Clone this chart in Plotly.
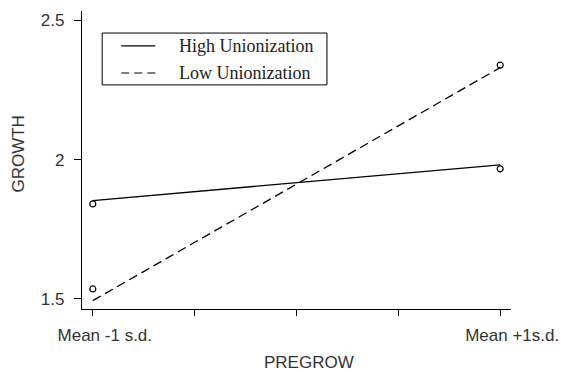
import plotly.graph_objects as go

pregrow = [-1, 1]
x_tick_vals = [-1, -0.5, 0, 0.5, 1]
x_tick_text = ["Mean -1 s.d.", "", "", "", "Mean +1s.d."]
y_tick_vals = [1.5, 2, 2.5]
y_tick_text = ["1.5", "2", "2.5"]

series_names = ["High Unionization", "Low Unionization"]
high_fit = [1.853, 1.981]
low_fit = [1.494, 2.330]
high_obs = [1.841, 1.967]
low_obs = [1.536, 2.339]

DASH = "9px,5px"
fig = go.Figure()
fig.add_trace(go.Scatter(x=pregrow, y=high_fit, mode="lines", name=series_names[0], showlegend=False,
                         line=dict(color="black", width=1.3, dash="solid")))
fig.add_trace(go.Scatter(x=pregrow, y=low_fit, mode="lines", name=series_names[1], showlegend=False,
                         line=dict(color="black", width=1.3, dash=DASH)))
for obs in (high_obs, low_obs):
    fig.add_trace(go.Scatter(x=pregrow, y=obs, mode="markers", showlegend=False,
                             marker=dict(symbol="circle-open", color="black", size=6,
                                         line=dict(width=1.2))))

sans = "Liberation Sans, Arial, Helvetica, sans-serif"
axis_font = dict(family=sans, size=17, color="#333")

# manual legend (box, line samples, labels)
shapes = [dict(type="rect", xref="paper", yref="paper", x0=0.047, x1=0.571, y0=0.752, y1=0.926,
               line=dict(color="black", width=1), fillcolor="white", layer="above")]
annotations = []
for i, (nm, ly) in enumerate(zip(series_names, [0.883, 0.792])):
    shapes.append(dict(type="line", xref="paper", yref="paper", x0=0.0915, x1=0.1707, y0=ly, y1=ly,
                       line=dict(color="black", width=1.2, dash="solid" if i == 0 else "8px,5px"),
                       layer="above"))
    annotations.append(dict(text=nm, xref="paper", yref="paper", x=0.222, y=ly, xanchor="left",
                            yanchor="middle", showarrow=False,
                            font=dict(family="Liberation Serif, Times New Roman, serif", size=18,
                                      color="#222")))
# axis titles
annotations.append(dict(text="PREGROW", xref="paper", yref="paper", x=0.528, y=-0.178,
                        xanchor="center", yanchor="middle", showarrow=False, font=axis_font))
annotations.append(dict(text="GROWTH", xref="paper", yref="paper", x=-0.148, y=0.52,
                        xanchor="center", yanchor="middle", showarrow=False, textangle=-90,
                        font=axis_font))

fig.update_layout(
    width=561, height=372,
    margin=dict(l=82, r=50, t=11, b=63, autoexpand=False),
    plot_bgcolor="white", paper_bgcolor="white",
    font=axis_font,
    showlegend=False,
    shapes=shapes, annotations=annotations,
    xaxis=dict(range=[-1.053, 1.053], tickvals=x_tick_vals, ticktext=x_tick_text,
               showline=True, linecolor="black", linewidth=1.2, ticks="outside",
               ticklen=6, tickcolor="black", tickwidth=1, showgrid=False, zeroline=False,
               ticklabelshift=12, ticklabelstandoff=4, automargin=False),
    yaxis=dict(range=[1.464, 2.533], tickvals=y_tick_vals, ticktext=y_tick_text,
               showline=True, linecolor="black", linewidth=1.2, ticks="outside",
               ticklen=7, tickcolor="black", tickwidth=1, showgrid=False, zeroline=False,
               ticklabelstandoff=6, automargin=False),
)
fig.write_html("out.html")
